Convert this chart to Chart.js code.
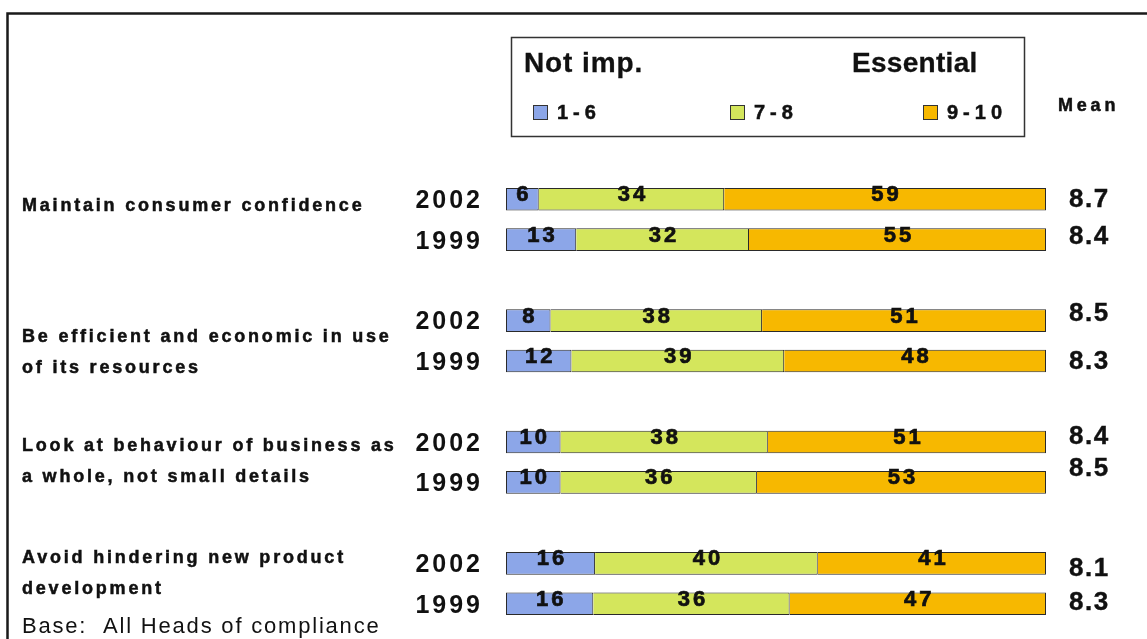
<!DOCTYPE html>
<html>
<head>
<meta charset="utf-8">
<script src="https://cdn.jsdelivr.net/npm/chart.js@4/dist/chart.umd.min.js"></script>
<style>
  html, body { margin: 0; padding: 0; background: #fff; }
  #wrap { width: 1147px; height: 639px; position: relative; }
</style>
</head>
<body>
<div id="wrap"><canvas id="c" width="1147" height="639"></canvas></div>
<script>
// Statements, each wrapped over one or two lines
const statements = [
  ["Maintain consumer confidence"],
  ["Be efficient and economic in use", "of its resources"],
  ["Look at behaviour of business as", "a whole, not small details"],
  ["Avoid hindering new product", "development"]
];
const years = ["2002", "1999"];
const bandLabels = ["1-6", "7-8", "9-10"];
const headerLeft = "Not imp.";
const headerRight = "Essential";
const meanTitle = "Mean";
const baseNote = "Base:  All Heads of compliance";

// Percent of respondents per rating band, rows ordered 2002 then 1999 per statement
const band16 = [6, 13, 8, 12, 10, 10, 16, 16];
const band78 = [34, 32, 38, 39, 38, 36, 40, 36];
const band910 = [59, 55, 51, 48, 51, 53, 41, 47];
// Mean importance score per row
const means = [8.7, 8.4, 8.5, 8.3, 8.4, 8.5, 8.1, 8.3];

const colors = ["#8CA6E8", "#D4E65C", "#F7B800"];
const FONT = "'Liberation Sans', Arial, sans-serif";

// Layout-only nudges (pixels) for the right-hand means and the statement text
const meanNudge = [1, -3, -7, 1, -5, -14, 6, -1];
const statementNudge = [-13, -3.5, -16, -26];

// Build the row slots: two bars per statement, then an empty spacer row
const rowLabels = [];
const rowIndex = [];   // slot -> data row (or -1 for spacer)
statements.forEach((s, g) => {
  years.forEach((y, k) => { rowLabels.push(y); rowIndex.push(g * 2 + k); });
  if (g < statements.length - 1) { rowLabels.push(""); rowIndex.push(-1); }
});

const bands = [band16, band78, band910];
const totals = band16.map((v, i) => band16[i] + band78[i] + band910[i]);
// each row is drawn as a 100% bar from its own band values
const pctData = bands.map(b => rowIndex.map(r => r < 0 ? null : b[r] / totals[r] * 100));
const rawData = bands.map(b => rowIndex.map(r => r < 0 ? null : b[r]));

const datasets = bandLabels.map((lab, i) => ({
  label: lab,
  data: pctData[i],
  raw: rawData[i],
  backgroundColor: colors[i],
  borderColor: "#2a2a2a",
  borderWidth: i === 0 ? 1 : { top: 1, bottom: 1, right: 1, left: 0 },
  borderSkipped: false,
  barPercentage: 0.56,
  categoryPercentage: 1
}));

// text helper; a thin stroke gives the heavy look of the bold labels
function txt(ctx, s, x, y, font, ls, align, heavy) {
  ctx.save();
  ctx.font = font;
  ctx.letterSpacing = ls + "px";
  ctx.fillStyle = "#111";
  ctx.strokeStyle = "#111";
  ctx.textAlign = align || "left";
  ctx.textBaseline = "middle";
  ctx.fillText(s, x, y);
  if (heavy) {
    ctx.lineWidth = heavy;
    ctx.strokeText(s, x, y);
  }
  ctx.restore();
}

const decor = {
  id: "decor",
  beforeDraw(chart) {
    chart.ctx.letterSpacing = "3px";
  },
  afterDatasetsDraw(chart) {
    const ctx = chart.ctx;
    const area = chart.chartArea;
    const y = chart.scales.y;

    // segment values
    chart.data.datasets.forEach((ds, di) => {
      chart.getDatasetMeta(di).data.forEach((el, j) => {
        const v = ds.raw[j];
        if (v == null) return;
        txt(ctx, String(v), (el.x + el.base) / 2 + 1.5, el.y - 4, "bold 22px " + FONT, 3, "center", 0.7);
      });
    });

    // means on the right
    rowIndex.forEach((r, slot) => {
      if (r < 0) return;
      const cy = y.getPixelForValue(slot);
      txt(ctx, means[r].toFixed(1), area.right + 23, cy + meanNudge[r], "bold 26px " + FONT, 1.5, "left", 0.4);
    });
    txt(ctx, meanTitle, 1058, 106, "bold 18px " + FONT, 3.8, "left", 0.5);

    // statements on the left
    statements.forEach((lines, g) => {
      const c = (y.getPixelForValue(g * 3) + y.getPixelForValue(g * 3 + 1)) / 2;
      lines.forEach((ln, k) => {
        txt(ctx, ln, 22, c + statementNudge[g] + k * 31, "bold 18px " + FONT, 2.8, "left", 0.5);
      });
    });
    txt(ctx, baseNote, 22, 627, "22px " + FONT, 1.8, "left", 0);

    // legend box
    ctx.save();
    ctx.strokeStyle = "#333";
    ctx.lineWidth = 1.5;
    ctx.strokeRect(511.5, 37.5, 513, 99);
    ctx.restore();
    txt(ctx, headerLeft, 524, 64, "bold 28px " + FONT, 0.9, "left", 0.3);
    txt(ctx, headerRight, 852, 64, "bold 28px " + FONT, 0.3, "left", 0.3);
    const lx = [533, 730, 923];
    chart.data.datasets.forEach((ds, i) => {
      ctx.save();
      ctx.fillStyle = ds.backgroundColor;
      ctx.strokeStyle = "#333";
      ctx.lineWidth = 1;
      ctx.fillRect(lx[i], 105, 15, 15);
      ctx.strokeRect(lx[i] + 0.5, 105.5, 14, 14);
      ctx.restore();
      txt(ctx, ds.label, lx[i] + 24, 113, "bold 20px " + FONT, 5, "left", 0.5);
    });

    // outer frame
    ctx.save();
    ctx.strokeStyle = "#1a1a1a";
    ctx.lineWidth = 2.5;
    ctx.beginPath();
    ctx.moveTo(7.5, 639);
    ctx.lineTo(7.5, 13.5);
    ctx.lineTo(1147, 13.5);
    ctx.stroke();
    ctx.restore();
  }
};

new Chart(document.getElementById("c"), {
  type: "bar",
  data: { labels: rowLabels, datasets },
  options: {
    indexAxis: "y",
    responsive: false,
    animation: false,
    layout: { padding: { top: 179, bottom: 15, right: 101, left: 0 } },
    plugins: { legend: { display: false }, tooltip: { enabled: false } },
    scales: {
      x: { stacked: true, min: 0, max: 100, display: false },
      y: {
        stacked: true,
        grid: { display: false, drawTicks: false },
        border: { display: false },
        ticks: {
          color: "#111",
          font: { family: FONT, size: 25, weight: "bold" },
          padding: 23,
          labelOffset: 2
        },
        afterFit(scale) {
          scale.width = 506;
          scale.paddingTop = 0;
          scale.paddingBottom = 0;
        }
      }
    }
  },
  plugins: [decor]
});
</script>
</body>
</html>
